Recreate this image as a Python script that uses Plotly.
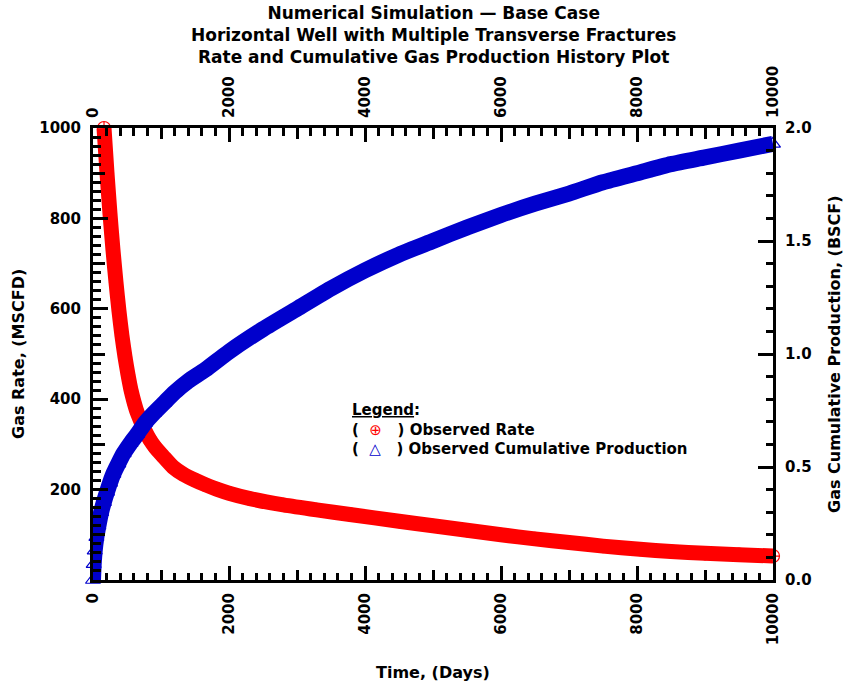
import plotly.graph_objects as go

# ---------------- data ----------------
rate_time = [162, 206, 250, 294, 338, 382, 426, 471, 515, 559, 603, 647, 706, 765, 838, 912,
             1029, 1176, 1328, 1500, 1650, 1819, 2000, 2309, 2799, 3289, 3779, 4500, 5000,
             5500, 6000, 6500, 7000, 7500, 8044, 8500, 9000, 9500, 10000]
rate_mscfd = [1000, 900, 810, 730, 659, 595, 540, 493, 454, 420, 394, 372, 350, 330, 310, 294,
              274, 250, 234, 221, 211, 201, 192, 180, 166, 155, 145, 130, 120,
              110, 100, 91, 83, 75, 68, 63, 59, 56, 53]

cum_time = [0, 10, 25, 50, 80, 120, 160, 206, 250, 300, 372, 450, 550, 650, 765, 900, 1050,
            1200, 1400, 1650, 2000, 2500, 3000, 3500, 4000, 4500, 5000, 5500, 6000, 6500,
            7000, 7500, 8000, 8500, 9000, 9500, 10000]
cum_bscf = [0.0, 0.07, 0.13, 0.19, 0.24, 0.30, 0.345, 0.39, 0.43, 0.47, 0.515, 0.56, 0.605,
            0.645, 0.695, 0.74, 0.785, 0.83, 0.88, 0.93, 1.01, 1.11, 1.20, 1.29, 1.37, 1.44,
            1.50, 1.56, 1.615, 1.665, 1.71, 1.76, 1.80, 1.84, 1.87, 1.90, 1.93]

x_major = [0, 2000, 4000, 6000, 8000, 10000]
x_mid = [1000, 3000, 5000, 7000, 9000]
y_major = [200, 400, 600, 800, 1000]
y_mid = [100, 300, 500, 700, 900]
y2_major = [0.0, 0.5, 1.0, 1.5, 2.0]
y2_labels = ["0.0", "0.5", "1.0", "1.5", "2.0"]

title_lines = ["Numerical Simulation \u2014 Base Case",
               "Horizontal Well with Multiple Transverse Fractures",
               "Rate and Cumulative Gas Production History Plot"]

RED = "#ff0000"
BLUE = "#0000cc"
FONT = "DejaVu Sans"

# ---------------- layout geometry ----------------
W, H = 844, 689
L, R, T, B = 93, 71, 128, 109
PW, PH = W - L - R, H - T - B


def px(xp):
    return (xp - L) / PW


def py(yp):
    return (H - B - yp) / PH


fig = go.Figure()

fig.add_trace(go.Scatter(
    x=rate_time, y=rate_mscfd, mode="lines+markers", xaxis="x", yaxis="y",
    line=dict(color=RED, width=15, shape="spline", smoothing=0.6),
    marker=dict(symbol="circle-cross-open", size=13, color=RED, line=dict(width=1.2, color=RED)),
    cliponaxis=False, showlegend=False, hoverinfo="skip"))

fig.add_trace(go.Scatter(
    x=cum_time, y=cum_bscf, mode="lines+markers", xaxis="x", yaxis="y2",
    line=dict(color=BLUE, width=16, shape="spline", smoothing=0.6),
    marker=dict(symbol="triangle-up-open", size=13, color=BLUE, line=dict(width=1.2, color=BLUE)),
    cliponaxis=False, showlegend=False, hoverinfo="skip"))

# empty traces so the helper axes are created
for xa, ya in [("x2", "y"), ("x3", "y"), ("x4", "y"), ("x", "y3")]:
    fig.add_trace(go.Scatter(x=[], y=[], xaxis=xa, yaxis=ya, showlegend=False, hoverinfo="skip"))

tickfont = dict(family=FONT, size=15, color="black", weight="bold")
common = dict(showgrid=False, zeroline=False, ticks="inside", tickcolor="black", tickwidth=3,
              linecolor="black", linewidth=3, tickfont=tickfont)
plain = {k: v for k, v in common.items() if k != "tickfont"}

fig.update_layout(
    width=W, height=H, autosize=False,
    margin=dict(l=L, r=R, t=T, b=B, pad=0),
    paper_bgcolor="white", plot_bgcolor="white",
    xaxis=dict(range=[0, 10000], side="bottom", anchor="y", tickmode="array", tickvals=x_major,
               ticktext=[str(v) for v in x_major], tickangle=-90, ticklen=14, showline=True,
               minor=dict(dtick=200, ticklen=7, ticks="inside", tickcolor="black", tickwidth=3),
               ticklabelstandoff=4, **common),
    xaxis2=dict(range=[0, 10000], side="top", anchor="y", overlaying="x", tickmode="array",
                tickvals=x_major, ticktext=[str(v) for v in x_major], tickangle=-90, ticklen=14,
                showline=True,
                minor=dict(dtick=200, ticklen=8, ticks="inside", tickcolor="black", tickwidth=3),
                ticklabelstandoff=4, **common),
    xaxis3=dict(range=[0, 10000], side="bottom", anchor="y", overlaying="x", tickmode="array",
                tickvals=x_mid, showticklabels=False, ticklen=10, showline=False, **plain),
    xaxis4=dict(range=[0, 10000], side="top", anchor="y", overlaying="x", tickmode="array",
                tickvals=x_mid, showticklabels=False, ticklen=11, showline=False, **plain),
    yaxis=dict(range=[0, 1000], side="left", anchor="x", tickmode="array", tickvals=y_major,
               ticktext=[str(v) for v in y_major], ticklen=15, showline=True,
               minor=dict(dtick=20, ticklen=8, ticks="inside", tickcolor="black", tickwidth=3),
               ticklabelstandoff=6, **common),
    yaxis3=dict(range=[0, 1000], side="left", anchor="x", overlaying="y", tickmode="array",
                tickvals=y_mid, showticklabels=False, ticklen=12, showline=False, **plain),
    yaxis2=dict(range=[0, 2], side="right", anchor="x", overlaying="y", tickmode="array",
                tickvals=y2_major, ticktext=y2_labels, ticklen=15, showline=True,
                minor=dict(dtick=0.1, ticklen=7, ticks="inside", tickcolor="black", tickwidth=3),
                ticklabelstandoff=6, **common),
)

annots = [
    dict(text="<br>".join(title_lines), x=px(433), y=py(1), xanchor="center", yanchor="top",
         font=dict(family=FONT, size=17, color="black", weight="bold"), showarrow=False),
    dict(text="Gas Rate, (MSCFD)", x=px(18), y=0.5, textangle=-90, xanchor="center",
         yanchor="middle", font=dict(family=FONT, size=16, color="black", weight="bold"),
         showarrow=False),
    dict(text="Gas Cumulative Production, (BSCF)", x=px(834), y=0.5, textangle=-90,
         xanchor="center", yanchor="middle",
         font=dict(family=FONT, size=16, color="black", weight="bold"), showarrow=False),
    dict(text="Time, (Days)", x=px(433), y=py(672), xanchor="center", yanchor="middle",
         font=dict(family=FONT, size=16, color="black", weight="bold"), showarrow=False),
    dict(text=("<u>Legend</u>:<br>"
               "(\u00a0\u00a0<span style='color:#ff0000;font-weight:normal'>\u2295</span>\u00a0\u00a0\u00a0) Observed Rate<br>"
               "(\u00a0\u00a0<span style='color:#0000cc;font-weight:normal'>\u25b3</span>\u00a0\u00a0\u00a0) Observed Cumulative Production"),
         x=px(350), y=py(399), xanchor="left", yanchor="top", align="left",
         font=dict(family=FONT, size=15, color="black", weight="bold"), showarrow=False),
]
for a in annots:
    a.update(xref="paper", yref="paper")
fig.update_layout(annotations=annots)

fig.write_html("out.html")
